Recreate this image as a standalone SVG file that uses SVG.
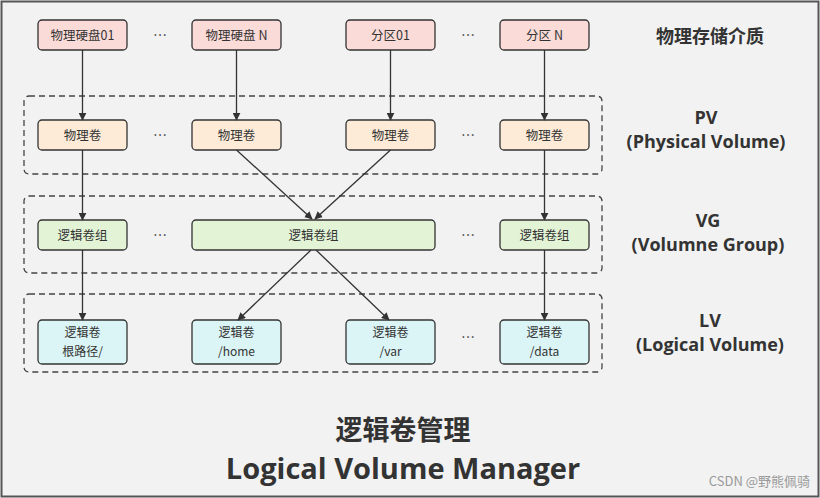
<svg xmlns="http://www.w3.org/2000/svg" width="820" height="498" viewBox="0 0 820 498">
<defs>
<marker id="a" viewBox="0 0 10 10" refX="9" refY="5" markerWidth="8" markerHeight="8" orient="auto" markerUnits="userSpaceOnUse"><path d="M0,0L10,5L0,10z" fill="#333"/></marker>
<style>
text{font-family:"Noto Sans CJK SC","Liberation Sans",sans-serif;fill:#333}
.n{stroke:#333;stroke-width:1.3}
.t{font-size:12.5px;text-anchor:middle}
.s{font-size:12px}
.d{fill:none;stroke:#444;stroke-width:1.3;stroke-dasharray:6,4}
.c line{stroke:#333;stroke-width:1.3;marker-end:url(#a)}
.l{font-size:18px;font-weight:bold;text-anchor:middle}
.e{font-family:"Open Sans","Noto Sans",sans-serif}
.dot{font-size:14px;text-anchor:middle;font-family:"Liberation Sans",sans-serif}
</style>
</defs>
<rect x="1.5" y="1.5" width="817" height="495" fill="#f2f2f2" stroke="#555" stroke-width="2"/>
<rect class="d" x="24" y="96" width="578" height="78" rx="5"/>
<rect class="d" x="24" y="196" width="578" height="77" rx="5"/>
<rect class="d" x="24" y="294" width="578" height="78" rx="5"/>
<g id="d1"><rect class="n" x="38" y="20" width="89" height="30" rx="4" fill="#fadbd8"/><text class="t" x="82.5" y="39.5">物理硬盘01</text></g>
<g id="d2"><rect class="n" x="192" y="20" width="89" height="30" rx="4" fill="#fadbd8"/><text class="t" x="236.5" y="39.5">物理硬盘 N</text></g>
<g id="d3"><rect class="n" x="346" y="20" width="89" height="30" rx="4" fill="#fadbd8"/><text class="t" x="390.5" y="39.5">分区01</text></g>
<g id="d4"><rect class="n" x="500" y="20" width="89" height="30" rx="4" fill="#fadbd8"/><text class="t" x="544.5" y="39.5">分区 N</text></g>
<g id="p1"><rect class="n" x="38" y="120" width="89" height="30" rx="4" fill="#fdebd8"/><text class="t" x="82.5" y="139.5">物理卷</text></g>
<g id="p2"><rect class="n" x="192" y="120" width="89" height="30" rx="4" fill="#fdebd8"/><text class="t" x="236.5" y="139.5">物理卷</text></g>
<g id="p3"><rect class="n" x="346" y="120" width="89" height="30" rx="4" fill="#fdebd8"/><text class="t" x="390.5" y="139.5">物理卷</text></g>
<g id="p4"><rect class="n" x="500" y="120" width="89" height="30" rx="4" fill="#fdebd8"/><text class="t" x="544.5" y="139.5">物理卷</text></g>
<g id="v1"><rect class="n" x="38" y="220" width="89" height="30" rx="4" fill="#e2f3d6"/><text class="t" x="82.5" y="239.5">逻辑卷组</text></g>
<g id="v2"><rect class="n" x="192" y="220" width="243" height="30" rx="4" fill="#e2f3d6"/><text class="t" x="313.5" y="239.5">逻辑卷组</text></g>
<g id="v3"><rect class="n" x="500" y="220" width="89" height="30" rx="4" fill="#e2f3d6"/><text class="t" x="544.5" y="239.5">逻辑卷组</text></g>
<g id="l1"><rect class="n" x="38" y="320" width="89" height="44" rx="4" fill="#dbf4f6"/><text class="t s" x="82.5" y="337">逻辑卷</text><text class="t s" x="82.5" y="356">根路径/</text></g>
<g id="l2"><rect class="n" x="192" y="320" width="89" height="44" rx="4" fill="#dbf4f6"/><text class="t s" x="236.5" y="337">逻辑卷</text><text class="t s" x="236.5" y="356">/home</text></g>
<g id="l3"><rect class="n" x="346" y="320" width="89" height="44" rx="4" fill="#dbf4f6"/><text class="t s" x="390.5" y="337">逻辑卷</text><text class="t s" x="390.5" y="356">/var</text></g>
<g id="l4"><rect class="n" x="500" y="320" width="89" height="44" rx="4" fill="#dbf4f6"/><text class="t s" x="544.5" y="337">逻辑卷</text><text class="t s" x="544.5" y="356">/data</text></g>
<g class="c">
<line x1="82.5" y1="50" x2="82.5" y2="120"/><line x1="236.5" y1="50" x2="236.5" y2="120"/><line x1="390.5" y1="50" x2="390.5" y2="120"/><line x1="544.5" y1="50" x2="544.5" y2="120"/>
<line x1="82.5" y1="150" x2="82.5" y2="220"/><line x1="236.5" y1="150" x2="312" y2="219"/><line x1="390.5" y1="150" x2="315" y2="219"/><line x1="544.5" y1="150" x2="544.5" y2="220"/>
<line x1="82.5" y1="250" x2="82.5" y2="320"/><line x1="311" y1="250" x2="238" y2="320"/><line x1="316" y1="250" x2="389" y2="320"/><line x1="544.5" y1="250" x2="544.5" y2="320"/>
</g>
<g class="dot"><text x="160" y="40">…</text><text x="468" y="40">…</text><text x="160" y="140">…</text><text x="468" y="140">…</text><text x="160" y="240">…</text><text x="468" y="240">…</text><text x="468" y="342">…</text></g>
<text class="l" x="710" y="43">物理存储介质</text>
<text class="l e" x="706" y="124">PV</text><text class="l e" x="706" y="148">(Physical Volume)</text>
<text class="l e" x="708" y="227">VG</text><text class="l e" x="708" y="251">(Volumne Group)</text>
<text class="l e" x="710" y="327">LV</text><text class="l e" x="710" y="351">(Logical Volume)</text>
<text x="403" y="440" style="font-size:27px;font-weight:bold;text-anchor:middle">逻辑卷管理</text>
<text class="e" x="403" y="479" style="font-size:29px;font-weight:bold;text-anchor:middle">Logical Volume Manager</text>
<text x="810" y="486" style="font-size:13px;text-anchor:end;fill:#999">CSDN @野熊佩骑</text>
</svg>
